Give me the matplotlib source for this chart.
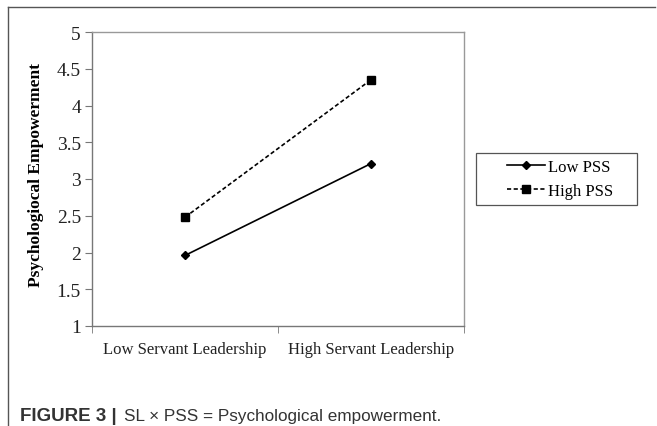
import matplotlib
matplotlib.use("Agg")
import matplotlib.pyplot as plt
from matplotlib.lines import Line2D
from matplotlib.patches import Rectangle

# data
categories = ["Low Servant Leadership", "High Servant Leadership"]
low_pss = [1.96, 3.21]
high_pss = [2.48, 4.35]
yticks = [1, 1.5, 2, 2.5, 3, 3.5, 4, 4.5, 5]
ytick_labels = ["1", "1.5", "2", "2.5", "3", "3.5", "4", "4.5", "5"]

plt.rcParams['font.family'] = ['Liberation Serif', 'DejaVu Serif']

fig = plt.figure(figsize=(6.57, 4.27), dpi=100)
W, H = 657, 427
ax = fig.add_axes([92 / W, 1 - 327 / H, (464 - 92) / W, (327 - 33) / H])

x = list(range(len(categories)))
ax.plot(x, low_pss, color='black', lw=1.2, marker='D', ms=4.5, label='Low PSS')
ax.plot(x, high_pss, color='black', lw=1.2, ls=(0, (2.5, 1.5)), marker='s', ms=5.5,
        label='High PSS')

ax.set_xlim(-0.5, len(categories) - 0.5)
ax.set_ylim(1, 5)
ax.set_yticks(yticks)
ax.set_yticklabels(ytick_labels, fontsize=14, color='#222222')
ax.set_xticks(x)
ax.set_xticklabels(categories, fontsize=12, color='#222222')
ax.tick_params(axis='x', which='major', length=0, pad=11)
ax.set_xticks([-0.5, 0.5, 1.5], minor=True)
ax.tick_params(axis='x', which='minor', length=5, color='#777777', direction='out')
ax.tick_params(axis='y', length=5, color='#777777', direction='out', pad=3)

for s in ['left', 'bottom']:
    ax.spines[s].set_color('#777777')
for s in ['top', 'right']:
    ax.spines[s].set_color('#999999')
for s in ax.spines.values():
    s.set_linewidth(1.0)

ax.set_ylabel("Psychologiocal Empowerment", fontsize=12.5, fontweight='bold')
ax.yaxis.set_label_coords(-0.13, 0.517)

# legend: box drawn separately, entries placed inside
fig.add_artist(Rectangle((476 / W, 1 - 206 / H), (637 - 476) / W, (206 - 154) / H,
                         transform=fig.transFigure, fill=False, ec='#555555', lw=0.9))
leg = fig.legend(loc='center left', bbox_to_anchor=(507 / W, 1 - 180 / H), fontsize=12,
                 frameon=False, handlelength=2.3, handletextpad=0.15,
                 borderpad=0, borderaxespad=0, labelspacing=0.45)

# outer frame of the figure panel
fig.add_artist(Line2D([8 / W, 655 / W], [1 - 8 / H, 1 - 8 / H], color='#555555', lw=1.0))
fig.add_artist(Line2D([8 / W, 8 / W], [0, 1 - 8 / H], color='#555555', lw=1.0))

# caption
fig.text(20 / W, 1 - 417 / H, "FIGURE 3 |", fontsize=13.5, fontweight='bold',
         family=['Liberation Sans'], va='center', color='#333333')
fig.text(124 / W, 1 - 417 / H, "SL \u00d7 PSS = Psychological empowerment.", fontsize=12.3,
         family=['Liberation Sans'], va='center', color='#333333')

fig.savefig("out.png", dpi=100)
